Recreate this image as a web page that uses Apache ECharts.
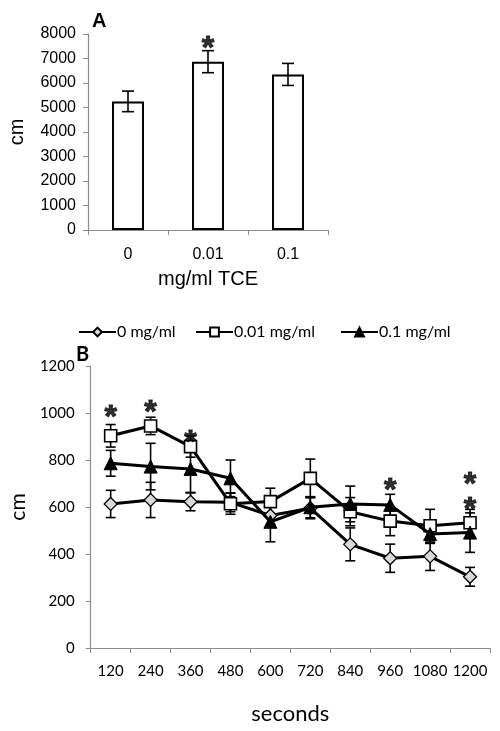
<!DOCTYPE html>
<html>
<head>
<meta charset="utf-8">
<script src="https://cdn.jsdelivr.net/npm/echarts@6/dist/echarts.min.js"></script>
<style>html,body{margin:0;padding:0;background:#fff}#c{width:500px;height:731px}</style>
</head>
<body>
<div id="c"></div>
<script>
// ---- Panel A data ----
var catsA = ['0', '0.01', '0.1'];
var valsA = [5250, 6870, 6350];
var errA = [420, 450, 450];
var sigA = [null, 7800, null];
var ticksA = [0, 1000, 2000, 3000, 4000, 5000, 6000, 7000, 8000];

// ---- Panel B data ----
var catsB = ['120', '240', '360', '480', '600', '720', '840', '960', '1080', '1200'];
var namesB = ['0 mg/ml', '0.01 mg/ml', '0.1 mg/ml'];
var d0 = [613, 630, 622, 620, 564, 595, 441, 382, 390, 303];
var e0 = [58, 75, 38, 40, 40, 45, 70, 60, 60, 40];
var d1 = [903, 945, 857, 614, 623, 722, 580, 540, 520, 533];
var e1 = [48, 37, 45, 45, 57, 82, 60, 62, 70, 57];
var d2 = [786, 772, 762, 722, 537, 599, 613, 609, 485, 491];
var e2 = [55, 99, 100, 78, 85, 45, 76, 45, 40, 84];
var sigB1 = [1021, 1043, 915, null, null, null, null, 711, null, 736];
var sigB2 = [null, null, null, null, null, null, null, null, null, 630];

var chart = echarts.init(document.getElementById('c'), null, {renderer: 'canvas'});

function errSeries(xi, yi, vals, errs, capW, z) {
  return {
    type: 'custom', xAxisIndex: xi, yAxisIndex: yi, z: z, silent: true,
    data: vals.map(function (v, i) { return [i, v - errs[i], v + errs[i]]; }),
    renderItem: function (params, api) {
      var lo = api.coord([api.value(0), api.value(1)]);
      var hi = api.coord([api.value(0), api.value(2)]);
      var st = {stroke: '#000', lineWidth: 1.6};
      return {type: 'group', children: [
        {type: 'line', shape: {x1: lo[0], y1: lo[1], x2: hi[0], y2: hi[1]}, style: st},
        {type: 'line', shape: {x1: lo[0] - capW, y1: lo[1], x2: lo[0] + capW, y2: lo[1]}, style: st},
        {type: 'line', shape: {x1: hi[0] - capW, y1: hi[1], x2: hi[0] + capW, y2: hi[1]}, style: st}
      ]};
    }
  };
}

function starSeries(xi, yi, arr, font, size) {
  return {
    type: 'scatter', xAxisIndex: xi, yAxisIndex: yi, symbolSize: 0, silent: true, z: 20,
    data: arr.map(function (v, i) { return v == null ? null : [i, v]; }).filter(function (d) { return d; }),
    label: {show: true, position: 'inside', formatter: '*', color: '#000',
      fontFamily: font, fontWeight: 'bold', fontSize: size, offset: [0, 10],
      textBorderColor: '#000', textBorderWidth: 1}
  };
}

var fontA = 'Liberation Sans';
var fontB = 'Lato';
var axisGray = '#8c8c8c';
function plain(v) { return String(v); }

var option = {
  animation: false,
  backgroundColor: '#fff',
  title: [
    {text: 'A', left: 87, top: 6, textStyle: {fontFamily: fontA, fontWeight: 'bold', fontSize: 20, color: '#000'}},
    {text: 'B', left: 71, top: 340, textStyle: {fontFamily: fontB, fontWeight: 'bold', fontSize: 20, color: '#000'}}
  ],
  legend: [
    {data: [namesB[0]], left: 78, top: 324},
    {data: [namesB[1]], left: 195, top: 324},
    {data: [namesB[2]], left: 340, top: 324}
  ].map(function (l) {
    l.itemWidth = 37; l.itemHeight = 11; l.itemGap = 0; l.padding = 0;
    l.textStyle = {fontFamily: fontB, fontSize: 16, color: '#000', padding: [0, 0, 0, -4]};
    return l;
  }),
  grid: [
    {left: 88, right: 172, top: 34, bottom: 501},
    {left: 75, right: 10, top: 366, bottom: 83}
  ],
  xAxis: [
    {type: 'category', gridIndex: 0, data: catsA,
      name: 'mg/ml TCE', nameLocation: 'middle', nameGap: 39,
      nameTextStyle: {fontFamily: fontA, fontSize: 20, color: '#000'},
      axisLine: {lineStyle: {color: axisGray, width: 1.2}},
      axisTick: {show: true, length: 5, lineStyle: {color: axisGray}},
      axisLabel: {fontFamily: fontA, fontSize: 16, color: '#000', margin: 17}},
    {type: 'category', gridIndex: 1, data: catsB,
      name: 'seconds', nameLocation: 'middle', nameGap: 55,
      nameTextStyle: {fontFamily: fontB, fontSize: 22, color: '#000'},
      axisLine: {lineStyle: {color: axisGray, width: 1.2}},
      axisTick: {show: true, length: 5, interval: 0, lineStyle: {color: axisGray}},
      axisLabel: {fontFamily: fontB, fontSize: 15, color: '#000', margin: 16, interval: 0}}
  ],
  yAxis: [
    {type: 'value', gridIndex: 0, min: ticksA[0], max: ticksA[ticksA.length - 1], interval: 1000,
      name: 'cm', nameLocation: 'middle', nameGap: 61,
      nameTextStyle: {fontFamily: fontA, fontSize: 20, color: '#000'},
      splitLine: {show: false},
      axisLine: {show: true, lineStyle: {color: axisGray, width: 1.2}},
      axisTick: {show: true, length: 5, lineStyle: {color: axisGray}},
      axisLabel: {fontFamily: fontA, fontSize: 16, color: '#000', margin: 12, formatter: plain}},
    {type: 'value', gridIndex: 1, min: 0, max: 1200, interval: 200,
      name: 'cm', nameLocation: 'middle', nameGap: 48,
      nameTextStyle: {fontFamily: fontB, fontSize: 21, color: '#000'},
      splitLine: {show: false},
      axisLine: {show: true, lineStyle: {color: axisGray, width: 1.2}},
      axisTick: {show: true, length: 5, lineStyle: {color: axisGray}},
      axisLabel: {fontFamily: fontB, fontSize: 15, color: '#000', margin: 16, formatter: plain}}
  ],
  series: [
    {type: 'bar', xAxisIndex: 0, yAxisIndex: 0, data: valsA, barWidth: '40%',
      itemStyle: {color: '#fff', borderColor: '#000', borderWidth: 2}, silent: true},
    errSeries(0, 0, valsA, errA, 6, 5),
    starSeries(0, 0, sigA, fontA, 32),

    errSeries(1, 1, d0, e0, 5, 3),
    errSeries(1, 1, d1, e1, 5, 3),
    errSeries(1, 1, d2, e2, 5, 3),
    {type: 'line', name: namesB[0], xAxisIndex: 1, yAxisIndex: 1, data: d0, z: 6,
      symbol: 'diamond', symbolSize: 13, showAllSymbol: true,
      lineStyle: {color: '#000', width: 3},
      itemStyle: {color: '#d9d9d9', borderColor: '#000', borderWidth: 1.3}},
    {type: 'line', name: namesB[1], xAxisIndex: 1, yAxisIndex: 1, data: d1, z: 7,
      symbol: 'rect', symbolSize: 12, showAllSymbol: true,
      lineStyle: {color: '#000', width: 3},
      itemStyle: {color: '#fff', borderColor: '#000', borderWidth: 1.6}},
    {type: 'line', name: namesB[2], xAxisIndex: 1, yAxisIndex: 1, data: d2, z: 8,
      symbol: 'triangle', symbolSize: 13, showAllSymbol: true,
      lineStyle: {color: '#000', width: 3},
      itemStyle: {color: '#000', borderColor: '#000', borderWidth: 1}},
    starSeries(1, 1, sigB1, fontA, 32),
    starSeries(1, 1, sigB2, fontA, 32)
  ]
};
chart.setOption(option);
</script>
</body>
</html>
